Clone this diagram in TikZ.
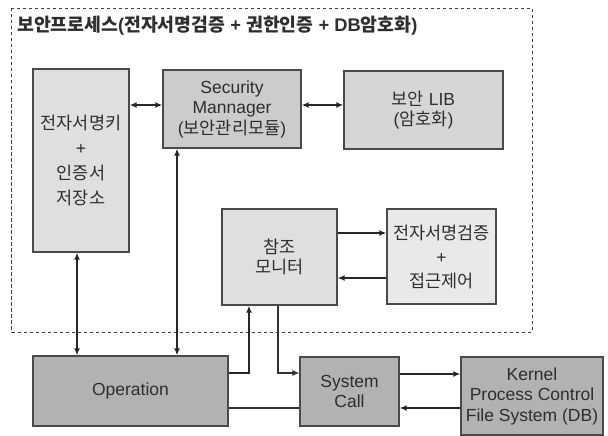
\documentclass[tikz,border=0pt]{standalone}
\usepackage{fontspec}
\setmainfont{Liberation Sans}
\newfontfamily\kr{Noto Sans CJK KR}
\newcommand{\ko}[1]{{\kr #1}}
\usetikzlibrary{arrows.meta}
\definecolor{boxline}{HTML}{4A4A4A}
\definecolor{lightbox}{HTML}{DFDFDF}
\definecolor{midbox}{HTML}{CCCCCC}
\definecolor{darkbox}{HTML}{B2B2B2}
\definecolor{inktext}{HTML}{2E2E2E}
\begin{document}
\begin{tikzpicture}[x=1pt,y=-1pt,>={Latex[length=7pt,width=6pt]},
  blk/.style={draw=boxline,line width=1.3pt,text=inktext,align=center,inner sep=0pt,font=\fontsize{17.5}{20.5}\selectfont},
  link/.style={draw=black!85,line width=1.8pt,->},
  wire/.style={draw=black!80,line width=1.1pt}]
\useasboundingbox (0,0) rectangle (608,436);
\draw[line width=0.9pt,draw=black!75,dash pattern=on 3.5pt off 2.5pt] (11.7,8) rectangle (532,332);
\node[anchor=west,inner sep=0pt,text=inktext,font=\fontsize{18.3}{20}\selectfont\bfseries] (title) at (17,26)
  {\ko{보안프로세스}(\ko{전자서명검증} + \ko{권한인증} + DB\ko{암호화})};

\node[blk,fill=lightbox,minimum width=96pt,minimum height=183pt,font=\fontsize{17.5}{25}\selectfont] (key) at (81,160.5)
  {\ko{전자서명키}\\+\\\ko{인증서}\\\ko{저장소}};
\node[blk,fill=midbox,minimum width=138pt,minimum height=78pt] (sm) at (232,109)
  {Security\\Mannager\\(\ko{보안관리모듈})};
\node[blk,fill=midbox!80!white,minimum width=159pt,minimum height=78pt] (lib) at (423.5,110)
  {\ko{보안} LIB\\(\ko{암호화})};
\node[blk,fill=lightbox,minimum width=115pt,minimum height=96pt] (mon) at (279.5,257)
  {\ko{참조}\\\ko{모니터}};
\node[blk,fill=lightbox!70!white,minimum width=109pt,minimum height=95pt,font=\fontsize{17.5}{24}\selectfont] (ver) at (441.5,256.5)
  {\ko{전자서명검증}\\+\\\ko{접근제어}};
\node[blk,fill=darkbox,minimum width=195pt,minimum height=70pt] (op) at (130.5,391) {Operation};
\node[blk,fill=darkbox,minimum width=99pt,minimum height=69pt] (sys) at (349.5,391.5) {System\\Call};
\node[blk,fill=darkbox,minimum width=142pt,minimum height=78pt] (ker) at (532,396)
  {Kernel\\Process Control\\File System (DB)};

\draw[link,<->] (key.east |- 0,105) -- (sm.west |- 0,105);
\draw[link,<->] (sm.east |- 0,105) -- (lib.west |- 0,105);
\draw[link,<->] (key.south -| 77,0) -- (op.north -| 77,0);
\draw[link,<->] (sm.south -| 177,0) -- (op.north -| 177,0);
\draw[link] (mon.east |- 0,233) -- (ver.west |- 0,233);
\draw[link] (ver.west |- 0,278) -- (mon.east |- 0,278);
\draw[link] (op.east |- 0,373) -| (mon.south -| 249,0);
\draw[wire,->] (mon.south -| 278,0) |- (sys.west |- 0,373);
\draw[wire] (op.east |- 0,408) -- (sys.west |- 0,408);
\draw[link] (sys.east |- 0,374) -- (ker.west |- 0,374);
\draw[link] (ker.west |- 0,408) -- (sys.east |- 0,408);
\end{tikzpicture}
\end{document}
